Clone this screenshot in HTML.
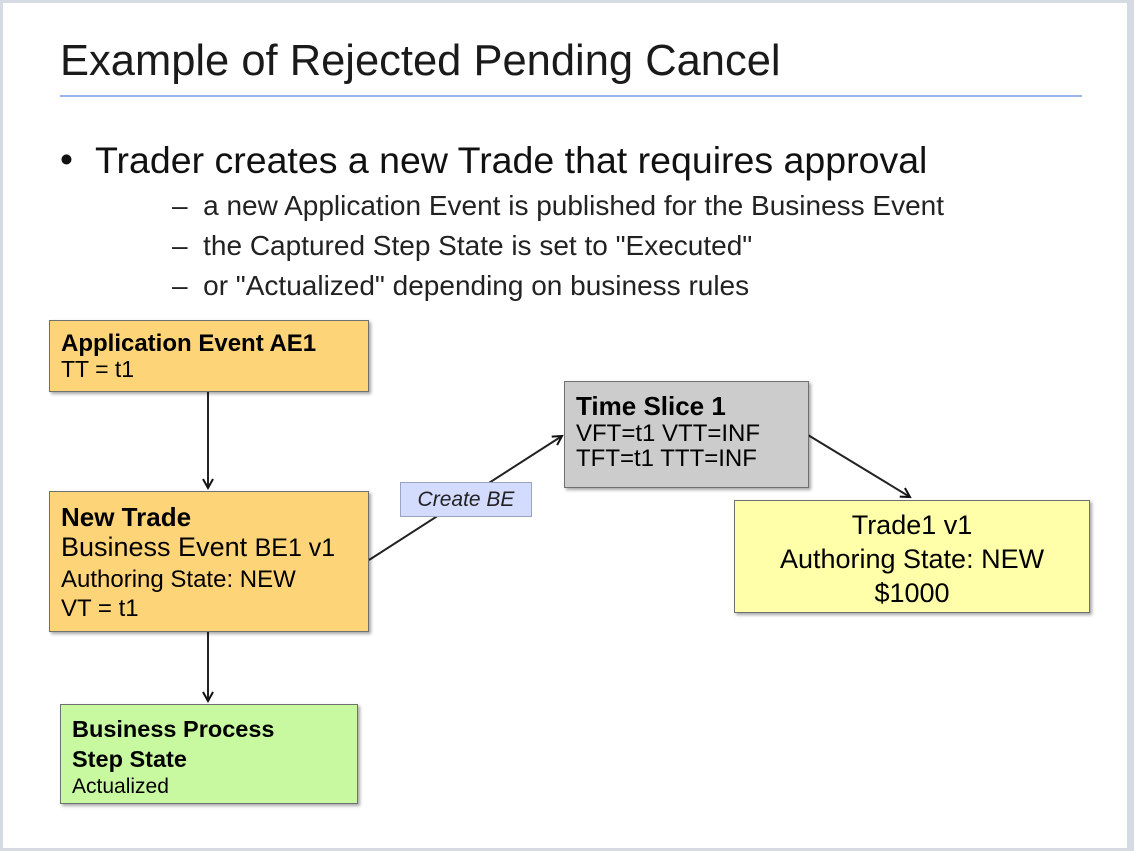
<!DOCTYPE html>
<html><head><style>
body{margin:0;width:1134px;height:851px;background:#d5dae3;font-family:"Liberation Sans",sans-serif;position:relative;overflow:hidden}
.pg{position:absolute;left:3px;top:3px;width:1124px;height:845px;background:#fff}
.a{position:absolute;white-space:nowrap;color:#111}
.b{position:absolute;box-sizing:border-box;border:1.5px solid #707070;box-shadow:2px 2px 3px rgba(0,0,0,.35)}
</style></head><body>
<div class="pg"></div>
<div class="a" style="left:60px;top:37px;font-size:43.5px;color:#1a1a1a">Example of Rejected Pending Cancel</div>
<div style="position:absolute;left:60px;top:95px;width:1022px;height:2px;background:#9db5ee"></div>
<div class="a" style="left:60px;top:139px;font-size:37px">•</div>
<div class="a" style="left:95px;top:139px;font-size:37.5px">Trader creates a new Trade that requires approval</div>
<div class="a" style="left:172px;top:190px;font-size:28px;color:#222">–&nbsp; a new Application Event is published for the Business Event</div>
<div class="a" style="left:172px;top:230px;font-size:28px;color:#222">–&nbsp; the Captured Step State is set to "Executed"</div>
<div class="a" style="left:172px;top:270px;font-size:28px;color:#222">–&nbsp; or "Actualized" depending on business rules</div>

<svg style="position:absolute;left:0;top:0" width="1134" height="851">
<defs><marker id="m" markerWidth="12" markerHeight="12" refX="10" refY="6" orient="auto" markerUnits="userSpaceOnUse"><path d="M1,1 L10,6 L1,11" fill="none" stroke="#111" stroke-width="2"/></marker></defs>
<g stroke="#222" stroke-width="2" fill="none">
<line x1="208" y1="392" x2="208" y2="488" marker-end="url(#m)"/>
<line x1="208" y1="632" x2="208" y2="701" marker-end="url(#m)"/>
<line x1="369" y1="560" x2="562" y2="436" marker-end="url(#m)"/>
<line x1="808" y1="435" x2="910" y2="497" marker-end="url(#m)"/>
</g></svg>

<div class="b" style="left:49px;top:320px;width:320px;height:72px;background:#fed479;padding:9px 11px">
<div style="font-size:24px;font-weight:bold;line-height:27px">Application Event AE1</div>
<div style="font-size:23px;line-height:25px">TT = t1</div></div>

<div class="b" style="left:49px;top:491px;width:320px;height:141px;background:#fed479;padding:10px 11px">
<div style="font-size:26px;font-weight:bold;line-height:30px">New Trade</div>
<div style="font-size:27px;line-height:31px">Business Event <span style="font-size:25px">BE1 v1</span></div>
<div style="font-size:24px;line-height:31px">Authoring State: NEW</div>
<div style="font-size:24px;line-height:28px">VT = t1</div></div>

<div class="b" style="left:60px;top:704px;width:298px;height:100px;background:#c8f8a0;padding:9px 11px">
<div style="font-size:23.5px;font-weight:bold;line-height:30px">Business Process<br>Step State</div>
<div style="font-size:21px;line-height:26px">Actualized</div></div>

<div class="b" style="left:564px;top:381px;width:245px;height:107px;background:#cccccc;padding:9px 11px">
<div style="font-size:26px;font-weight:bold;line-height:30px">Time Slice 1</div>
<div style="font-size:24px;line-height:25px">VFT=t1 VTT=INF<br>TFT=t1 TTT=INF</div></div>

<div class="b" style="left:734px;top:500px;width:356px;height:113px;background:#ffffaa;padding:7px 0;text-align:center">
<div style="font-size:27px;line-height:34px">Trade1 v1<br>Authoring State: NEW<br>$1000</div></div>

<div style="position:absolute;left:400px;top:482px;width:132px;height:35px;box-sizing:border-box;background:#d3dbff;border:1px solid #9aa3c0;font-size:21px;font-style:italic;text-align:center;line-height:33px;color:#222">Create BE</div>
</body></html>
